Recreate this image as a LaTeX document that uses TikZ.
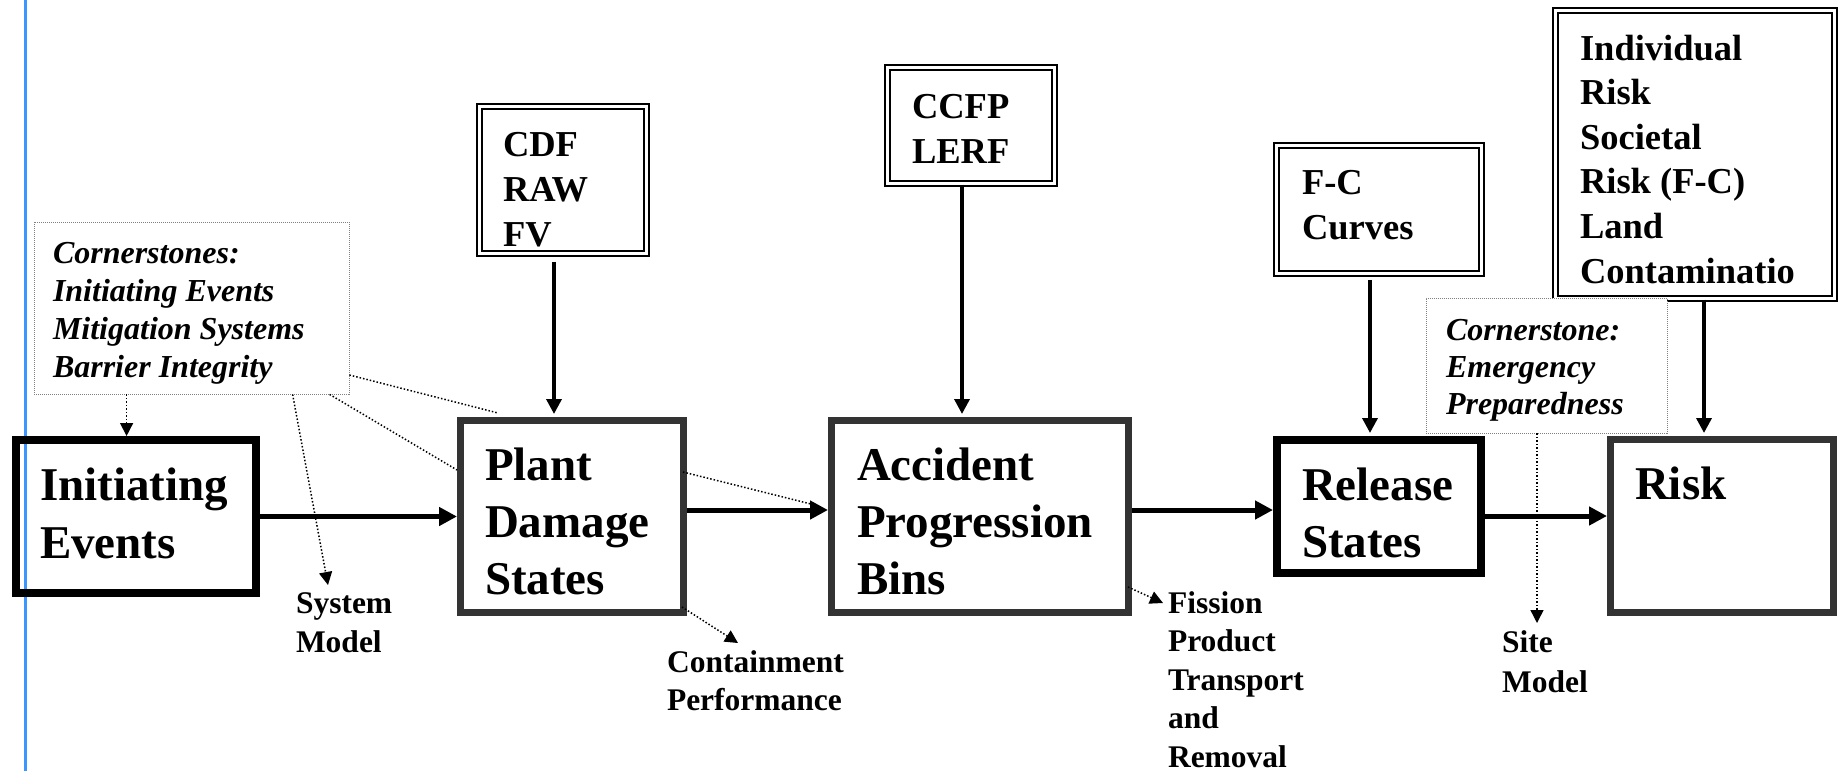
\documentclass[tikz,border=0pt]{standalone}
\usepackage{fontspec}
\setmainfont{Liberation Serif}
\usetikzlibrary{arrows.meta,calc}
\definecolor{boxgray}{HTML}{333333}
\definecolor{dotgray}{HTML}{808080}
\definecolor{rulerblue}{HTML}{3D96FF}
\begin{document}
\begin{tikzpicture}[x=1pt,y=-1pt,
 box/.style={draw, rectangle, inner sep=0pt, line width=7pt},
 dbox/.style={draw, rectangle, inner sep=0pt, line width=2pt, double, double distance=3pt},
 cbox/.style={draw=dotgray, fill=white, rectangle, inner sep=0pt, line width=0.8pt, dash pattern=on 1pt off 1pt},
 txt/.style={inner sep=0pt, outer sep=0pt, anchor=base west, align=left},
 bigtxt/.style={txt, font=\fontsize{47}{57}\selectfont\bfseries},
 midtxt/.style={txt, font=\fontsize{36.5}{45}\selectfont\bfseries},
 smalltxt/.style={txt, font=\fontsize{31.5}{39}\selectfont\bfseries},
 ittxt/.style={txt, font=\fontsize{32}{38}\selectfont\bfseries\itshape},
 flow/.style={line width=5pt, -{Triangle[length=18pt,width=18pt]}},
 feed/.style={line width=3.5pt, -{Triangle[length=15pt,width=15pt]}},
 dotline/.style={line width=1.5pt, dash pattern=on 1.5pt off 2pt},
 dotarrow/.style={dotline, -{Triangle[length=13pt,width=13pt]}},
]
\fill[white] (0,0) rectangle (1839,771);
\useasboundingbox (0,0) rectangle (1839,771);
\draw[rulerblue, line width=3pt] (25,0) -- (25,771);

% main boxes
\node[box, line width=8pt, minimum width=240pt, minimum height=153pt] (ie) at (136,516.5) {};
\node[box, draw=boxgray, minimum width=223pt, minimum height=192pt] (pds) at (572,516.5) {};
\node[box, draw=boxgray, minimum width=297pt, minimum height=192pt] (apb) at (980,516.5) {};
\node[box, line width=8pt, minimum width=204pt, minimum height=133pt] (rs) at (1379,506.5) {};
\node[box, draw=boxgray, minimum width=223pt, minimum height=173pt] (risk) at (1722,526) {};

% metric boxes
\node[dbox, minimum width=167pt, minimum height=147pt] (cdf) at (563,180) {};
\node[dbox, minimum width=167pt, minimum height=116pt] (ccfp) at (971,125.5) {};
\node[dbox, minimum width=205pt, minimum height=128pt] (fc) at (1379,209.5) {};
\node[dbox, minimum width=279pt, minimum height=288pt] (rm) at (1695,154.5) {};

% cornerstone boxes
\node[cbox, minimum width=315pt, minimum height=172pt] (cs1) at (191.5,308) {};
\node[cbox, minimum width=241pt, minimum height=135pt] (cs2) at (1546.5,365.5) {};

% texts (anchor = baseline of the last line)
\node[ittxt] (cs1t) at (53,377) {Cornerstones:\\Initiating Events\\Mitigation Systems\\Barrier Integrity};
\node[ittxt, font=\fontsize{32}{37}\selectfont\bfseries\itshape] (cs2t) at (1446,414) {Cornerstone:\\Emergency\\Preparedness};
\node[bigtxt, font=\fontsize{47}{58}\selectfont\bfseries] (iet) at (40,558) {Initiating\\Events};
\node[bigtxt] (pdst) at (485,594) {Plant\\Damage\\States};
\node[bigtxt] (apbt) at (857,594) {Accident\\Progression\\Bins};
\node[bigtxt] (rst) at (1302,557) {Release\\States};
\node[bigtxt] (riskt) at (1635,499) {Risk};
\node[midtxt] (cdft) at (503,246) {CDF\\RAW\\FV};
\node[midtxt] (ccfpt) at (912,163) {CCFP\\LERF};
\node[midtxt] (fct) at (1302,239) {F-C\\Curves};
\node[midtxt, font=\fontsize{36.5}{44.6}\selectfont\bfseries] (rmt) at (1580,283) {Individual\\Risk\\Societal\\Risk (F-C)\\Land\\Contaminatio};
\node[smalltxt] (sysm) at (296,652) {System\\Model};
\node[smalltxt, font=\fontsize{31.5}{38}\selectfont\bfseries] (cont) at (667,710) {Containment\\Performance};
\node[smalltxt, font=\fontsize{31.5}{38.5}\selectfont\bfseries] (fiss) at (1168,767) {Fission\\Product\\Transport\\and\\Removal};
\node[smalltxt, font=\fontsize{31.5}{40}\selectfont\bfseries] (site) at (1502,692) {Site\\Model};

% arrow ends at labels
\coordinate (sysmTip) at ([xshift=32pt,yshift=67pt]sysm.base west);
\coordinate (contTip) at ([xshift=71pt,yshift=67pt]cont.base west);
\coordinate (fissTip) at ([xshift=-5pt,yshift=164pt]fiss.base west);
\coordinate (siteTip) at ([yshift=69pt]site.base west);

% main flow
\draw[flow] (ie.east) -- (pds.west);
\draw[flow] ([yshift=6.5pt]pds.east) -- ([yshift=6.5pt]apb.west);
\draw[flow] ([yshift=6.5pt]apb.east) -- ([yshift=6.5pt]apb.east -| rs.west);
\draw[flow] ([yshift=-9.5pt]rs.east) -- ([yshift=-9.5pt]rs.east -| risk.west);

% metric feeds
\draw[feed, shorten <=7pt, shorten >=3pt] ([xshift=-9pt]cdf.south) -- ([xshift=-9pt]cdf.south |- pds.north);
\draw[feed, shorten >=3pt] ([xshift=-9pt]ccfp.south) -- ([xshift=-9pt]ccfp.south |- apb.north);
\draw[feed, shorten <=5pt, shorten >=3pt] ([xshift=-9pt]fc.south) -- ([xshift=-9pt]fc.south |- rs.north);
\draw[feed, shorten >=3pt] ([xshift=9pt]rm.south) -- ([xshift=9pt]rm.south |- risk.north);

% dotted connectors
\draw[dotarrow] ([xshift=93pt]cs1.south west) -- ([xshift=93pt]cs1.south west |- ie.north);
\draw[dotarrow] ([xshift=259pt]cs1.south west) -- (sysmTip);
\draw[dotline] ([xshift=296pt]cs1.south west) -- ([yshift=46.5pt]pds.west);
\draw[dotline] ([yshift=-67pt]cs1.east) -- ([xshift=-74pt,yshift=4pt]pds.north);
\draw[dotline] ([xshift=-4pt,yshift=44.5pt]pds.east) -- ([xshift=-13pt,yshift=11.5pt]apb.west);
\draw[dotarrow] ([xshift=-5pt,yshift=9pt]pds.south east) -- (contTip);
\draw[dotarrow] ([xshift=-4pt,yshift=29pt]apb.south east) -- (fissTip);
\draw[dotarrow] ([xshift=-9.5pt]cs2.south) -- ([xshift=-9.5pt]cs2.south |- siteTip);
\end{tikzpicture}
\end{document}
